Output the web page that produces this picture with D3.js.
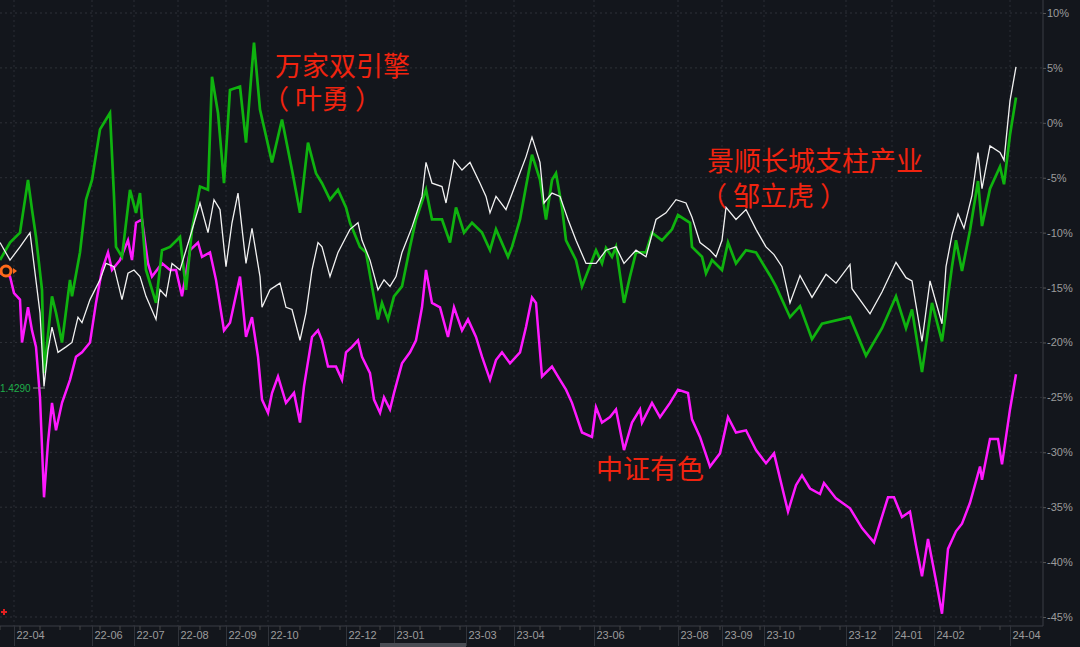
<!DOCTYPE html>
<html><head><meta charset="utf-8">
<script src="https://cdn.jsdelivr.net/npm/d3@7/dist/d3.min.js"></script>
<style>body{margin:0;background:#13161c;overflow:hidden}svg{display:block}</style>
</head><body><svg id="c" width="1080" height="647"></svg>
<script>
// [trading day index, return %]
const wanjia = [[0,-12.5],[5,-10.9],[10,-10.0],[14,-5.2],[16,-7.9],[18,-10.4],[21,-15.2],[22,-22.8],[26,-15.8],[28,-17.3],[31,-20.0],[35,-14.3],[36,-15.8],[40,-11.8],[43,-7.0],[46,-5.2],[50,-0.6],[53,0.3],[55,0.9],[57,-6.7],[58,-11.3],[61,-12.2],[65,-6.1],[68,-8.2],[70,-6.4],[73,-13.4],[78,-16.4],[81,-11.6],[85,-11.3],[90,-10.4],[93,-15.2],[96,-9.7],[100,-5.8],[104,-6.1],[106,4.2],[109,0.9],[112,-5.5],[115,3.0],[120,3.3],[123,-1.8],[126,5.1],[127,7.3],[130,1.2],[136,-3.6],[141,0.3],[146,-4.3],[150,-8.2],[154,-1.8],[158,-4.6],[161,-5.5],[165,-7.0],[169,-6.1],[173,-7.7],[175,-9.1],[180,-11.3],[183,-11.8],[186,-14.9],[189,-17.9],[191,-16.4],[194,-17.9],[197,-15.8],[201,-14.9],[205,-11.3],[208,-8.8],[213,-6.1],[216,-8.8],[221,-8.8],[225,-10.9],[228,-7.7],[232,-10.0],[236,-9.1],[241,-10.0],[245,-11.6],[248,-9.7],[254,-12.2],[256,-11.3],[260,-8.8],[263,-5.8],[266,-2.9],[270,-5.2],[273,-8.8],[276,-5.2],[278,-4.6],[281,-7.7],[283,-10.7],[288,-12.5],[291,-14.9],[298,-11.6],[301,-12.8],[303,-11.4],[306,-12.2],[308,-11.3],[312,-16.4],[315,-14.0],[318,-11.8],[323,-11.8],[326,-10.0],[331,-10.7],[336,-9.7],[339,-8.4],[345,-9.1],[346,-11.3],[351,-12.2],[353,-13.7],[356,-12.5],[361,-13.4],[364,-10.9],[368,-12.8],[373,-11.6],[378,-11.8],[385,-13.9],[388,-14.9],[395,-17.7],[400,-16.7],[406,-19.7],[411,-18.3],[425,-17.7],[433,-21.2],[441,-18.7],[448,-15.8],[453,-18.7],[456,-17.0],[461,-22.7],[466,-16.4],[471,-19.9],[476,-13.1],[478,-10.7],[481,-13.5],[485,-9.8],[489,-5.3],[491,-9.4],[495,-6.0],[500,-4.0],[502,-5.6],[505,-1.1],[508,2.3]];
const jingshun = [[0,-10.9],[5,-12.5],[10,-11.3],[15,-10.0],[20,-17.3],[22,-24.0],[24,-20.7],[26,-18.6],[29,-20.9],[33,-20.4],[36,-20.0],[39,-17.7],[41,-18.2],[45,-16.1],[50,-14.3],[53,-12.8],[57,-13.1],[61,-16.1],[64,-13.7],[67,-13.4],[70,-14.0],[73,-15.8],[78,-17.9],[80,-15.2],[83,-15.8],[86,-12.8],[90,-13.4],[95,-10.4],[100,-7.3],[104,-10.0],[107,-7.0],[110,-7.9],[113,-13.1],[116,-9.1],[119,-6.4],[123,-12.8],[126,-9.6],[130,-14.0],[131,-16.8],[135,-15.2],[140,-14.6],[143,-16.8],[146,-17.0],[150,-19.8],[153,-17.3],[156,-13.4],[159,-10.9],[161,-11.3],[165,-14.0],[169,-11.8],[173,-10.4],[175,-9.7],[179,-9.1],[181,-10.7],[185,-12.5],[189,-15.2],[192,-14.3],[195,-14.9],[198,-14.0],[201,-11.8],[206,-9.5],[211,-6.7],[213,-3.6],[216,-5.5],[221,-5.8],[223,-7.3],[227,-3.4],[231,-4.3],[235,-3.6],[240,-5.5],[243,-6.7],[245,-8.2],[248,-6.7],[253,-7.9],[258,-5.5],[263,-3.1],[266,-1.3],[270,-3.6],[272,-7.3],[276,-6.4],[280,-6.7],[284,-8.8],[288,-10.7],[293,-12.8],[298,-12.8],[303,-11.6],[308,-11.3],[312,-12.8],[318,-11.6],[323,-12.2],[328,-8.8],[333,-8.2],[338,-7.0],[343,-7.3],[346,-8.6],[350,-10.9],[355,-11.6],[358,-12.2],[361,-10.7],[363,-7.7],[368,-8.8],[373,-7.9],[378,-9.7],[383,-11.3],[387,-12.0],[391,-13.1],[395,-16.4],[400,-13.9],[406,-15.9],[413,-13.8],[418,-14.6],[425,-12.9],[426,-15.1],[435,-17.4],[441,-15.4],[448,-12.7],[453,-14.1],[456,-14.4],[461,-19.9],[465,-14.4],[471,-18.3],[473,-13.1],[476,-10.2],[479,-8.3],[482,-9.6],[486,-6.6],[489,-2.7],[491,-6.0],[495,-2.1],[500,-2.7],[502,-3.4],[505,2.0],[508,5.1]];
const zhongzheng = [[0,-13.7],[5,-14.0],[7,-15.5],[10,-16.1],[11,-20.0],[14,-16.8],[16,-18.9],[18,-20.4],[20,-25.0],[22,-34.1],[24,-29.1],[26,-25.5],[28,-28.0],[31,-25.5],[35,-23.4],[38,-21.3],[41,-20.9],[45,-20.0],[48,-16.4],[51,-13.4],[54,-11.8],[56,-13.4],[60,-12.5],[64,-10.7],[66,-12.5],[68,-9.1],[71,-8.8],[74,-12.8],[76,-14.0],[81,-12.8],[85,-13.4],[88,-13.4],[91,-15.8],[95,-11.6],[99,-10.9],[101,-12.2],[105,-11.8],[108,-14.3],[112,-18.9],[115,-18.2],[120,-14.0],[123,-19.5],[126,-17.7],[129,-21.3],[131,-25.2],[134,-26.4],[136,-24.6],[139,-23.1],[143,-25.5],[147,-24.6],[150,-27.3],[152,-24.0],[156,-19.5],[159,-18.9],[161,-19.8],[164,-22.2],[168,-22.2],[171,-23.4],[173,-20.9],[176,-20.4],[179,-19.8],[181,-21.3],[185,-22.8],[187,-25.2],[190,-26.4],[192,-25.0],[195,-26.1],[197,-24.6],[201,-21.9],[205,-20.9],[208,-19.8],[211,-16.8],[213,-13.4],[216,-16.4],[220,-16.8],[224,-19.5],[227,-16.8],[231,-18.9],[234,-17.9],[238,-19.5],[241,-21.3],[245,-23.4],[248,-21.6],[251,-20.9],[255,-21.9],[260,-20.9],[263,-18.6],[266,-15.9],[268,-16.4],[271,-23.1],[276,-22.2],[280,-23.4],[283,-24.3],[286,-25.5],[291,-28.2],[296,-28.6],[298,-25.9],[301,-27.3],[305,-26.8],[308,-26.1],[312,-29.8],[316,-27.3],[320,-26.1],[321,-27.3],[326,-25.5],[330,-26.8],[335,-25.5],[339,-24.3],[344,-24.6],[346,-27.0],[350,-28.6],[355,-31.3],[360,-30.1],[364,-26.8],[368,-28.2],[373,-28.0],[378,-29.8],[383,-31.0],[387,-30.1],[394,-35.4],[398,-33.0],[401,-32.1],[405,-33.3],[410,-33.8],[412,-32.8],[418,-34.2],[425,-35.1],[431,-36.9],[437,-38.2],[444,-34.1],[447,-34.1],[451,-35.9],[455,-35.4],[458,-38.5],[461,-41.3],[464,-37.9],[468,-41.7],[471,-44.7],[474,-38.8],[478,-37.2],[481,-36.5],[485,-34.6],[490,-31.3],[491,-32.5],[495,-28.8],[499,-28.8],[501,-31.1],[505,-26.1],[508,-22.9]];
const xTickLabels = ["22-04","22-06","22-07","22-08","22-09","22-10","22-12","23-01","23-03","23-04","23-06","23-08","23-09","23-10","23-12","24-01","24-02","24-04"];
const xTickDays = [7,46,67,89,113,134,173,197,233,257,297,339,361,382,423,446,467,505];
const yTicks = [10,5,0,-5,-10,-15,-20,-25,-30,-35,-40,-45];

const svg = d3.select("#c");
const x = d3.scaleLinear().domain([0,508]).range([0,1016]);
const y = d3.scaleLinear().domain([10,-45]).range([13,617]);
const axisCol = "#3a3d44", txtCol = "#9c9c9c";

svg.append("g").selectAll("line").data(yTicks).join("line")
  .attr("x1",0).attr("x2",1043).attr("y1",d=>y(d)).attr("y2",d=>y(d))
  .attr("stroke","#2e3138").attr("stroke-dasharray","2,3");
svg.append("g").selectAll("line").data(xTickDays).join("line")
  .attr("x1",d=>x(d)).attr("x2",d=>x(d)).attr("y1",0).attr("y2",626)
  .attr("stroke","#2a2d34").attr("stroke-dasharray","2,3");

const ra = svg.append("g").attr("transform","translate(1043,0)")
  .call(d3.axisRight(y).tickValues(yTicks).tickSize(3).tickFormat(d=>d+"%"));
ra.select(".domain").attr("stroke",axisCol).attr("d","M0,0V626");
ra.selectAll("line").attr("stroke","#555");
ra.selectAll("text").attr("fill",txtCol).attr("font-size",11).attr("font-family","Liberation Sans, Arial").attr("x",4);

const ba = svg.append("g").attr("transform","translate(0,626)")
  .call(d3.axisBottom(x).tickValues(xTickDays).tickSize(20).tickFormat((d,i)=>xTickLabels[i]));
ba.select(".domain").attr("stroke",axisCol).attr("d","M0,0H1043");
ba.selectAll("line").attr("stroke","#30333a");
ba.selectAll("text").attr("fill",txtCol).attr("font-size",11).attr("font-family","Liberation Sans, Arial")
  .attr("text-anchor","start").attr("x",2).attr("y",5).attr("dy","0.71em");
svg.append("g").selectAll("line").data(d3.range(0,508,10)).join("line")
  .attr("x1",d=>x(d)).attr("x2",d=>x(d)).attr("y1",626).attr("y2",630).attr("stroke","#444");
svg.append("rect").attr("x",380).attr("y",643).attr("width",86).attr("height",4).attr("fill","#4a4d54");

const line = d3.line().x(d=>x(d[0])).y(d=>y(d[1]));
svg.append("path").datum(zhongzheng).attr("d",line).attr("fill","none").attr("stroke","#ff19ff").attr("stroke-width",2.5);
svg.append("path").datum(wanjia).attr("d",line).attr("fill","none").attr("stroke","#0fb30f").attr("stroke-width",2.7);
svg.append("path").datum(jingshun).attr("d",line).attr("fill","none").attr("stroke","#f2f2f2").attr("stroke-width",1.3);

svg.append("text").attr("x",0).attr("y",392).attr("fill","#1fae4a").attr("font-size",10).attr("font-family","Liberation Sans, Arial").text("1.4290");
svg.append("line").attr("x1",33).attr("x2",45).attr("y1",388).attr("y2",388).attr("stroke","#888");
svg.append("circle").attr("cx",6).attr("cy",271).attr("r",5).attr("fill","#111").attr("stroke","#ff6a1a").attr("stroke-width",3);
svg.append("path").attr("d","M13,268L17,271L13,274Z").attr("fill","#ff6a1a");
svg.append("path").attr("d","M1,612H7M4,609V615").attr("stroke","#e02020").attr("stroke-width",2);

const ann = [["万家双引擎",275,76],["（ 叶勇 ）",262,109],["景顺长城支柱产业",707,171],["（ 邹立虎 ）",700,206],["中证有色",596,479]];
svg.append("g").selectAll("text").data(ann).join("text")
  .attr("x",d=>d[1]).attr("y",d=>d[2]).text(d=>d[0])
  .attr("fill","#f0230f").attr("font-size",27).attr("font-family","Noto Sans CJK SC");
</script></body></html>
